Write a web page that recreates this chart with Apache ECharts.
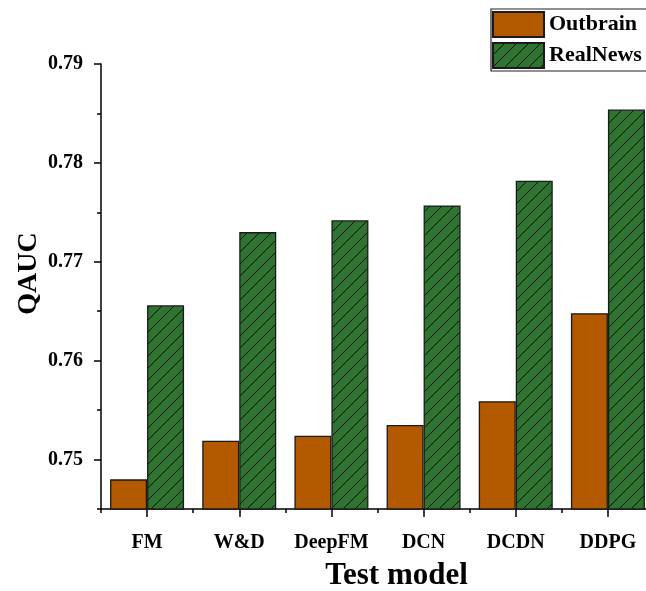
<!DOCTYPE html>
<html><head><meta charset="utf-8">
<script src="https://cdn.jsdelivr.net/npm/echarts@6/dist/echarts.min.js"></script>
<style>html,body{margin:0;padding:0;background:#fff}#c{width:646px;height:591px}</style>
</head><body><div id="c"></div>
<script>
const categories = ['FM', 'W&D', 'DeepFM', 'DCN', 'DCDN', 'DDPG'];
const outbrain = [0.7480, 0.7519, 0.7524, 0.7535, 0.7559, 0.7648];
const realNews = [0.7656, 0.7730, 0.7742, 0.7757, 0.7782, 0.7854];
const yMajorTicks = [0.75, 0.76, 0.77, 0.78, 0.79];
const yMinorTicks = [0.745, 0.755, 0.765, 0.775, 0.785];
const xCenterTicks = categories.map((c, i) => i);

const FONT = 'Liberation Serif';
function hatch() {
  const s = 12, c = document.createElement('canvas');
  c.width = s; c.height = s;
  const g = c.getContext('2d');
  g.fillStyle = '#2e7430'; g.fillRect(0, 0, s, s);
  g.strokeStyle = '#111'; g.lineWidth = 1;
  g.beginPath();
  g.moveTo(0, s); g.lineTo(s, 0);
  g.moveTo(-2, 2); g.lineTo(2, -2);
  g.moveTo(s - 2, s + 2); g.lineTo(s + 2, s - 2);
  g.stroke();
  return c;
}
const chart = echarts.init(document.getElementById('c'));
const axisLineStyle = { color: '#000', width: 1.5 };
chart.setOption({
  animation: false,
  textStyle: { fontFamily: FONT, fontWeight: 'bold', color: '#000' },
  grid: { left: 101, right: -8, top: 64, bottom: 82, outerBoundsMode: 'none', containLabel: false },
  legend: {
    orient: 'vertical', left: 491, top: 9,
    icon: 'rect', itemWidth: 51, itemHeight: 25, itemGap: 4,
    padding: [2, 20, 2, 1],
    borderColor: '#222', borderWidth: 1.2,
    textStyle: { fontFamily: FONT, fontWeight: 'bold', fontSize: 22, color: '#000' },
    data: ['Outbrain', 'RealNews']
  },
  xAxis: [{
    type: 'category', data: categories,
    axisLine: { onZero: false, lineStyle: axisLineStyle },
    axisTick: { show: true, interval: 0, length: 4, lineStyle: { color: '#000', width: 1.5 } },
    axisLabel: { interval: 0, fontFamily: FONT, fontWeight: 'bold', fontSize: 20, color: '#000', margin: 24 },
    name: 'Test model', nameLocation: 'middle', nameGap: 51, nameMoveOverlap: false,
    nameTextStyle: { fontFamily: FONT, fontWeight: 'bold', fontSize: 31, color: '#000', padding: [0, 0, 0, 38] }
  }, {
    type: 'value', min: -0.5, max: 5.5, position: 'bottom',
    splitLine: { show: false },
    axisLine: { show: false, onZero: false },
    axisTick: { show: true, customValues: xCenterTicks, length: 8, lineStyle: { color: '#000', width: 1.5 } },
    axisLabel: { show: false }
  }],
  yAxis: [{
    type: 'value', min: 0.745, max: 0.79,
    splitLine: { show: false },
    axisLine: { show: true, onZero: false, lineStyle: axisLineStyle },
    axisTick: { show: true, length: 7, customValues: yMajorTicks, lineStyle: { color: '#000', width: 1.5 } },
    axisLabel: { customValues: yMajorTicks, fontFamily: FONT, fontWeight: 'bold', fontSize: 20, color: '#000', margin: 18,
      formatter: v => v.toFixed(2) },
    name: 'QAUC', nameLocation: 'middle', nameGap: 58, nameMoveOverlap: false,
    nameTextStyle: { fontFamily: FONT, fontWeight: 'bold', fontSize: 28, color: '#000', padding: [0, 0, 0, 26] }
  }, {
    type: 'value', min: 0.745, max: 0.79, position: 'left',
    splitLine: { show: false },
    axisLine: { show: false, onZero: false },
    axisTick: { show: true, length: 4, customValues: yMinorTicks, lineStyle: { color: '#000', width: 1.5 } },
    axisLabel: { show: false }
  }],
  series: [{
    name: 'Outbrain', type: 'bar', data: outbrain, barWidth: 37, barGap: '0%',
    itemStyle: { color: '#b35900', borderColor: '#1a1a1a', borderWidth: 1.3 }
  }, {
    name: 'RealNews', type: 'bar', data: realNews, barWidth: 37, barGap: '0%',
    itemStyle: { color: { image: hatch(), repeat: 'repeat' }, borderColor: '#1a1a1a', borderWidth: 1.3 }
  }]
});
</script></body></html>
